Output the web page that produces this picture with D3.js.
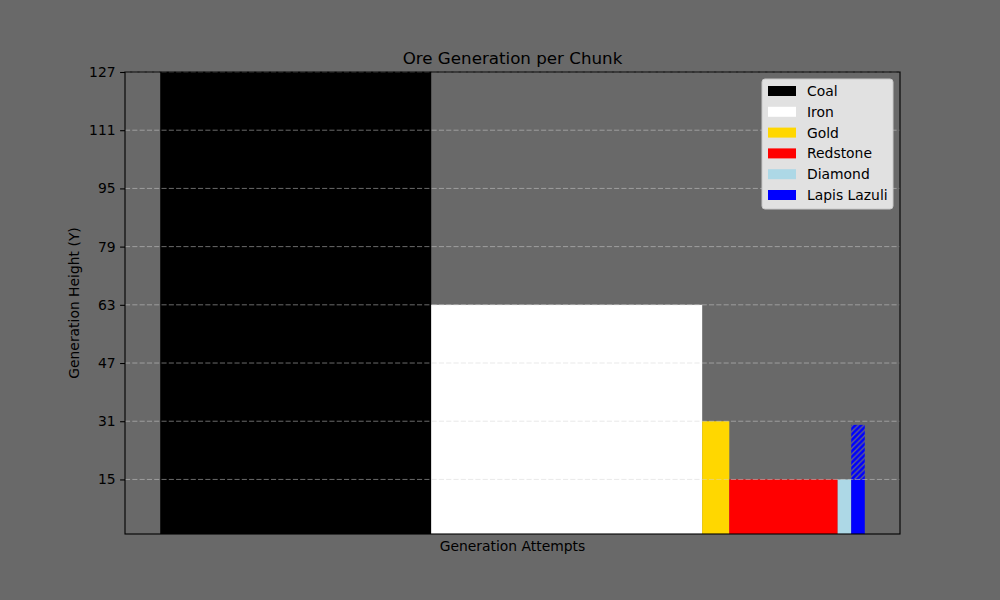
<!DOCTYPE html>
<html>
<head>
<meta charset="utf-8">
<script src="https://cdn.jsdelivr.net/npm/d3@7"></script>
<style>
  body { margin: 0; background: #696969; }
  svg { display: block; font-family: "DejaVu Sans", sans-serif; }
</style>
</head>
<body>
<svg id="chart"></svg>
<script>
// ore data: width of each bar = generation attempts, height = max generation height
const ores = ['Coal', 'Iron', 'Gold', 'Redstone', 'Diamond', 'Lapis Lazuli']
const attempts = [20, 20, 2, 8, 1, 1]
const heights = [127, 63, 31, 15, 15, 15]
const colors = ['#000000', '#ffffff', '#ffd700', '#ff0000', '#add8e6', '#0000ff']
// lapis has an extra spread range on top of its base height
const lapisSpread = [15, 30]
const yTicks = [15, 31, 47, 63, 79, 95, 111, 127]

const W = 1000, H = 600
const margin = {top: 72, right: 100, bottom: 66, left: 125}
const width = W - margin.left - margin.right
const height = H - margin.top - margin.bottom

const svg = d3.select('#chart')
    .attr('width', W)
    .attr('height', H)
    .style('background-color', '#696969')

// hatch for the lapis spread
const defs = svg.append('defs')
const pat = defs.append('pattern')
    .attr('id', 'hatch')
    .attr('patternUnits', 'userSpaceOnUse')
    .attr('width', 5.6)
    .attr('height', 5.6)
pat.append('rect').attr('width', 5.6).attr('height', 5.6).attr('fill', '#0000ff')
pat.append('path')
    .attr('d', 'M-1.4,1.4 L1.4,-1.4 M0,5.6 L5.6,0 M4.2,7 L7,4.2')
    .attr('stroke', '#6a6a7a')
    .attr('stroke-width', 1.2)

const g = svg.append('g')
    .attr('transform', 'translate(' + margin.left + ',' + margin.top + ')')

// cumulative start of each bar
let starts = []
let acc = 0
attempts.forEach(a => { starts.push(acc); acc += a })
const total = acc
const pad = total * 0.05

const x = d3.scaleLinear()
    .domain([-pad, total + pad])
    .range([0, width])

const y = d3.scaleLinear()
    .domain([0, 127])
    .range([height, 0])

const bars = ores.map((name, i) => ({name: name, start: starts[i], w: attempts[i], h: heights[i], color: colors[i]}))

g.selectAll('.bar')
    .data(bars)
    .enter().append('rect')
    .attr('class', 'bar')
    .attr('x', d => x(d.start))
    .attr('width', d => x(d.start + d.w) - x(d.start))
    .attr('y', d => y(d.h))
    .attr('height', d => y(0) - y(d.h))
    .attr('fill', d => d.color)

const lapis = bars[5]
g.append('rect')
    .attr('x', x(lapis.start))
    .attr('width', x(lapis.start + lapis.w) - x(lapis.start))
    .attr('y', y(lapisSpread[1]))
    .attr('height', y(lapisSpread[0]) - y(lapisSpread[1]))
    .attr('fill', 'url(#hatch)')

// grid on top of the bars
g.append('g')
    .selectAll('line')
    .data(yTicks)
    .enter().append('line')
    .attr('x1', 0)
    .attr('x2', width)
    .attr('y1', d => y(d))
    .attr('y2', d => y(d))
    .attr('stroke', '#d3d3d3')
    .attr('stroke-opacity', 0.5)
    .attr('stroke-width', 1)
    .attr('stroke-dasharray', '5.1,2.2')

// y axis
const yAxis = g.append('g')
    .call(d3.axisLeft(y).tickValues(yTicks).tickSize(4.9).tickPadding(4.5))
yAxis.select('.domain').remove()
yAxis.selectAll('.tick line').attr('stroke', '#000').attr('stroke-width', 1.1)
yAxis.selectAll('.tick text')
    .attr('fill', '#000')
    .attr('font-size', '13.9px')
    .attr('font-family', '"DejaVu Sans", sans-serif')

// frame
g.append('rect')
    .attr('x', 0)
    .attr('y', 0)
    .attr('width', width)
    .attr('height', height)
    .attr('fill', 'none')
    .attr('stroke', '#000')
    .attr('stroke-width', 1.1)

// labels
svg.append('text')
    .attr('x', margin.left + width / 2)
    .attr('y', 64)
    .attr('text-anchor', 'middle')
    .attr('font-size', '16.7px')
    .attr('fill', '#000')
    .text('Ore Generation per Chunk')

svg.append('text')
    .attr('x', margin.left + width / 2)
    .attr('y', 551)
    .attr('text-anchor', 'middle')
    .attr('font-size', '13.9px')
    .attr('fill', '#000')
    .text('Generation Attempts')

svg.append('text')
    .attr('transform', 'translate(79,' + (margin.top + height / 2) + ') rotate(-90)')
    .attr('text-anchor', 'middle')
    .attr('font-size', '13.9px')
    .attr('fill', '#000')
    .text('Generation Height (Y)')

// legend
const lg = svg.append('g').attr('transform', 'translate(762,79)')
lg.append('rect')
    .attr('width', 131)
    .attr('height', 130)
    .attr('rx', 3)
    .attr('fill', '#e1e1e1')
    .attr('stroke', '#c8c8c8')
    .attr('stroke-width', 1)

const rows = lg.selectAll('.row')
    .data(bars)
    .enter().append('g')
    .attr('class', 'row')
    .attr('transform', (d, i) => 'translate(0,' + (12 + i * 20.8) + ')')
rows.append('rect')
    .attr('x', 6)
    .attr('y', -5)
    .attr('width', 28)
    .attr('height', 10)
    .attr('fill', d => d.color)
rows.append('text')
    .attr('x', 45)
    .attr('y', 5)
    .attr('font-size', '13.9px')
    .attr('fill', '#000')
    .text(d => d.name)
</script>
</body>
</html>
